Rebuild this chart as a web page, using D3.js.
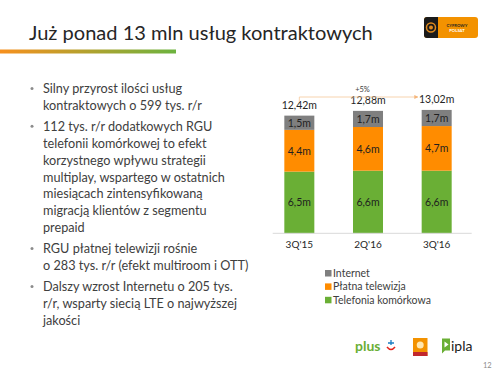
<!DOCTYPE html>
<html><head><meta charset="utf-8">
<script src="https://cdn.jsdelivr.net/npm/d3@7"></script>
<style>html,body{margin:0;padding:0;background:#fff;}svg{display:block;}</style>
</head><body>
<svg id="c" width="500" height="374"></svg>
<script>
const title = "Już ponad 13 mln usług kontraktowych";
const bullets = [
  ["Silny przyrost ilości usług", "kontraktowych o 599 tys. r/r"],
  ["112 tys. r/r dodatkowych RGU", "telefonii komórkowej to efekt", "korzystnego wpływu strategii", "multiplay, wspartego w ostatnich", "miesiącach zintensyfikowaną", "migracją klientów z segmentu", "prepaid"],
  ["RGU płatnej telewizji rośnie", "o 283 tys. r/r (efekt multiroom i OTT)"],
  ["Dalszy wzrost Internetu o 205 tys.", "r/r, wsparty siecią LTE o najwyższej", "jakości"]
];
const categories = ["3Q'15", "2Q'16", "3Q'16"];
const seriesNames = ["Telefonia komórkowa", "Płatna telewizja", "Internet"];
const mobile = [6.5, 6.6, 6.6];
const payTV = [4.4, 4.6, 4.7];
const internet = [1.5, 1.7, 1.7];
const totals = [12.42, 12.88, 13.02];
const growthLabel = "+5%";
const colors = ["#6aaf35", "#ff8c00", "#7f7f7f"];
const legendOrder = [2, 1, 0];

const svg = d3.select("#c");
const FONT = "Lato, 'Open Sans', sans-serif";

function fitTo(sel, target) {
  const w = sel.node().getComputedTextLength();
  const fs = parseFloat(sel.attr("font-size"));
  return fs * target / w;
}

// Title
const t = svg.append("text").attr("x", 29).attr("y", 40).attr("font-family", FONT)
  .attr("font-size", 22).attr("fill", "#262626").text(title);
t.attr("font-size", fitTo(t, 344));

// gradient underline
const defs = svg.append("defs");
const g = defs.append("linearGradient").attr("id", "ul").attr("x1", "0").attr("x2", "1");
g.append("stop").attr("offset", "0").attr("stop-color", "#f7901e");
g.append("stop").attr("offset", "1").attr("stop-color", "#6cb33f");
svg.append("rect").attr("x", 0).attr("y", 49.5).attr("width", 176).attr("height", 4).attr("fill", "url(#ul)");

// Top-right logo
svg.append("rect").attr("x", 424).attr("y", 17).attr("width", 54).attr("height", 21).attr("rx", 3).attr("fill", "#f39200");
svg.append("rect").attr("x", 424).attr("y", 17).attr("width", 14).attr("height", 21).attr("rx", 3).attr("fill", "#1a1a1a");
svg.append("rect").attr("x", 434).attr("y", 17).attr("width", 4).attr("height", 21).attr("fill", "#1a1a1a");
svg.append("circle").attr("cx", 431).attr("cy", 27.5).attr("r", 4.5).attr("fill", "none").attr("stroke", "#e08a1e").attr("stroke-width", 1.5);
svg.append("circle").attr("cx", 431).attr("cy", 27.5).attr("r", 2).attr("fill", "#e08a1e");
svg.append("text").attr("x", 457).attr("y", 26.5).attr("text-anchor", "middle").attr("font-family", FONT)
  .attr("font-size", 4.2).attr("font-weight", "bold").attr("fill", "#222").text("CYFROWY");
svg.append("text").attr("x", 457).attr("y", 31.5).attr("text-anchor", "middle").attr("font-family", FONT)
  .attr("font-size", 4.2).attr("font-weight", "bold").attr("fill", "#fff").text("POLSAT");

// Bullets
const L = 16.9, GAP = 4;
let y0 = 93;
const bulletG = svg.append("g");
let measureLine = null;
bullets.forEach((para) => {
  bulletG.append("circle").attr("cx", 32).attr("cy", y0 - 4.5).attr("r", 1.5).attr("fill", "#8c8c8c");
  para.forEach((line, i) => {
    const tx = bulletG.append("text").attr("x", 43).attr("y", y0 + i * L).attr("font-family", FONT)
      .attr("font-size", 13).attr("fill", "#404040").text(line);
    if (line === "multiplay, wspartego w ostatnich") measureLine = tx;
  });
  y0 += para.length * L + GAP;
});
const bfs = fitTo(measureLine, 182);
bulletG.selectAll("text").attr("font-size", bfs);

// Chart
const x = d3.scaleBand().domain(categories).range([265, 471]).paddingInner(0.563).paddingOuter(0.2815);
const y = d3.scaleLinear().domain([0, 14]).range([233.3, 233.3 - 14 * 9.49]);
const seriesVals = [mobile, payTV, internet];
const rows = categories.map((c, i) => {
  const o = { cat: c };
  seriesNames.forEach((s, k) => o[s] = seriesVals[k][i]);
  return o;
});
const stack = d3.stack().keys(seriesNames)(rows);
const fmt = v => d3.format(".1f")(v).replace(".", ",") + "m";
const fmt2 = v => d3.format(".2f")(v).replace(".", ",") + "m";

const cg = svg.append("g");
stack.forEach((layer, k) => {
  cg.selectAll(null).data(layer).enter().append("rect")
    .attr("x", d => x(d.data.cat)).attr("width", x.bandwidth())
    .attr("y", d => y(d[1])).attr("height", d => y(d[0]) - y(d[1]))
    .attr("fill", colors[k]);
  cg.selectAll(null).data(layer).enter().append("text")
    .attr("x", d => x(d.data.cat) + x.bandwidth() / 2)
    .attr("y", d => (y(d[0]) + y(d[1])) / 2 + 3.8)
    .attr("text-anchor", "middle").attr("font-family", FONT).attr("font-size", 10.5)
    .attr("fill", "#1f1f1f").text(d => fmt(d[1] - d[0]));
});

// axis baseline
cg.append("line").attr("x1", 272.7).attr("x2", 471.7).attr("y1", 233.3).attr("y2", 233.3)
  .attr("stroke", "#d9d9d9").attr("stroke-width", 1);
const xa = cg.append("g").attr("transform", "translate(0,233.3)").call(d3.axisBottom(x).tickSize(0).tickPadding(8));
xa.select(".domain").remove();
xa.selectAll("text").attr("font-family", FONT).attr("font-size", 10).attr("fill", "#262626");

// totals
const topVals = stack[2];
cg.selectAll(null).data(topVals).enter().append("text")
  .attr("x", d => x(d.data.cat) + x.bandwidth() / 2)
  .attr("y", (d, i) => y(d[1]) - 7)
  .attr("text-anchor", "middle").attr("font-family", FONT).attr("font-size", 10.5)
  .attr("fill", "#262626").text((d, i) => fmt2(totals[i]));

// growth arrow
const ax1 = x(categories[0]) + x.bandwidth() / 2;
const ax2 = x(categories[2]) - 4;
const ay = 97;
defs.append("marker").attr("id", "ah").attr("viewBox", "0 0 6 6").attr("refX", 5).attr("refY", 3)
  .attr("markerWidth", 5).attr("markerHeight", 5).attr("orient", "auto")
  .append("path").attr("d", "M0,0L6,3L0,6Z").attr("fill", "#f5b57a");
cg.append("path").attr("d", `M${ax1},${ay + 5}V${ay}H${ax2}`).attr("fill", "none")
  .attr("stroke", "#f5c89a").attr("stroke-width", 0.8).attr("marker-end", "url(#ah)");
cg.append("text").attr("x", (ax1 + ax2) / 2 + 4).attr("y", 91.5).attr("text-anchor", "middle")
  .attr("font-family", FONT).attr("font-size", 7.5).attr("fill", "#404040").text(growthLabel);

// legend
const lg = svg.append("g");
legendOrder.forEach((k, i) => {
  const ly = 277 + i * 13.4;
  lg.append("rect").attr("x", 325).attr("y", ly - 7).attr("width", 6.5).attr("height", 6.5).attr("fill", colors[k]);
  lg.append("text").attr("x", 333).attr("y", ly).attr("font-family", FONT).attr("font-size", 10.5)
    .attr("fill", "#404040").text(seriesNames[k]);
});

// bottom logos
svg.append("text").attr("x", 355).attr("y", 351).attr("font-family", FONT).attr("font-size", 14)
  .attr("font-weight", "bold").attr("fill", "#6aaf35").text("plus");
svg.append("path").attr("d", "M387,347 q4,5 8,0").attr("fill", "none").attr("stroke", "#e2231a").attr("stroke-width", 1.5);
svg.append("path").attr("d", "M388,343 h6 M391,340 v5").attr("fill", "none").attr("stroke", "#1a7dc2").attr("stroke-width", 1.3);
svg.append("rect").attr("x", 413).attr("y", 338).attr("width", 14.5).attr("height", 18).attr("fill", "#f39200");
svg.append("rect").attr("x", 413).attr("y", 352).attr("width", 14.5).attr("height", 4).attr("fill", "#c1272d");
svg.append("circle").attr("cx", 420.2).attr("cy", 345).attr("r", 3.5).attr("fill", "#ffe7b0");
svg.append("path").attr("d", "M442,338.5 h8 v12 h-5 l-3,3 z").attr("fill", "#6aaf35");
svg.append("path").attr("d", "M444.5,341.5 l4,3 l-4,3 z").attr("fill", "#fff");
svg.append("text").attr("x", 451).attr("y", 351).attr("font-family", FONT).attr("font-size", 14)
  .attr("fill", "#1a1a1a").text("ipla");
svg.append("text").attr("x", 483).attr("y", 368).attr("font-family", FONT).attr("font-size", 7.5)
  .attr("fill", "#8c8c8c").text("12");
</script>
</body></html>
